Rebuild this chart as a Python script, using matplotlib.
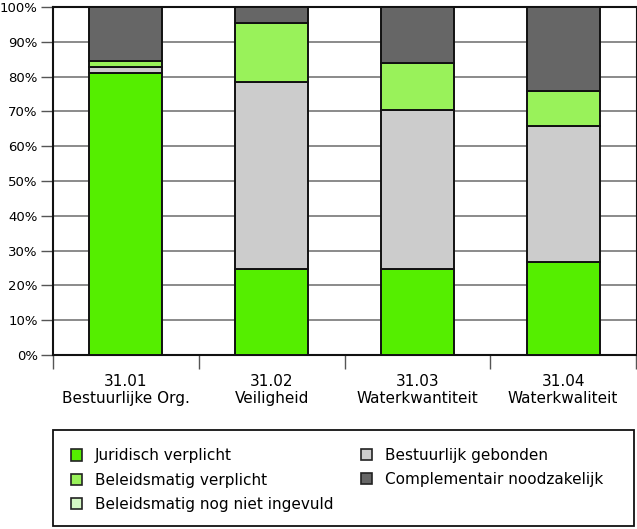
import matplotlib.pyplot as plt
import numpy as np
from matplotlib.patches import Patch, Rectangle
from matplotlib.ticker import FixedLocator

plt.rcParams['font.family'] = ['DejaVu Sans']

categories = ["31.01\nBestuurlijke Org.", "31.02\nVeiligheid", "31.03\nWaterkwantiteit", "31.04\nWaterkwaliteit"]
juridisch = [80.9, 24.7, 24.7, 26.6]
bestuurlijk = [1.9, 53.8, 45.8, 39.1]
beleid_verplicht = [1.7, 16.9, 13.4, 10.2]
beleid_nog_niet = [0.0, 0.0, 0.0, 0.0]
complementair = [15.5, 4.6, 16.1, 24.1]

colors = {
    "Juridisch verplicht": "#55ee00",
    "Bestuurlijk gebonden": "#cccccc",
    "Beleidsmatig verplicht": "#99f25a",
    "Beleidsmatig nog niet ingevuld": "#d4f7c4",
    "Complementair noodzakelijk": "#666666",
}

stack = [
    ("Juridisch verplicht", juridisch),
    ("Bestuurlijk gebonden", bestuurlijk),
    ("Beleidsmatig verplicht", beleid_verplicht),
    ("Beleidsmatig nog niet ingevuld", beleid_nog_niet),
    ("Complementair noodzakelijk", complementair),
]

W, H = 637, 529
fig = plt.figure(figsize=(W / 100, H / 100), dpi=100)
ax = fig.add_axes([53 / W, 1 - 355 / H, 583 / W, 348 / H])

x = np.arange(len(categories))
bottom = np.zeros(len(categories))
for name, vals in stack:
    vals = np.array(vals)
    ax.bar(x, vals, width=0.5, bottom=bottom, color=colors[name],
           edgecolor="#111111", linewidth=1.4, zorder=3)
    bottom += vals

ax.set_xlim(-0.5, len(categories) - 0.5)
ax.set_ylim(0, 100)
ax.set_yticks(np.arange(0, 101, 10))
ax.set_yticklabels([f"{v}%" for v in range(0, 101, 10)], fontsize=9.5)
ax.yaxis.grid(True, color="#777777", linewidth=1.2, zorder=0)
ax.tick_params(axis="y", length=9, width=1, color="#555555", pad=2)

ax.set_xticks(x)
ax.set_xticklabels(categories, fontsize=11, linespacing=1.1)
ax.tick_params(axis="x", which="major", length=0, pad=14)
ax.xaxis.set_minor_locator(FixedLocator(np.arange(-0.5, len(categories) - 0.4, 1)))
ax.tick_params(axis="x", which="minor", length=10, width=1, color="#555555")

for s in ax.spines.values():
    s.set_color("#111111")
    s.set_linewidth(1.5)
ax.spines["right"].set_linewidth(0.8)

# legend frame
fig.patches.append(Rectangle((53 / W, 1 - 526 / H), 581 / W, 96 / H, transform=fig.transFigure,
                             fill=False, edgecolor="#111111", linewidth=1.3))

col1 = ["Juridisch verplicht", "Beleidsmatig verplicht", "Beleidsmatig nog niet ingevuld"]
col2 = ["Bestuurlijk gebonden", "Complementair noodzakelijk"]
common = dict(fontsize=11, frameon=False, handlelength=0.75, handleheight=0.75,
              handletextpad=0.8, labelspacing=0.6, borderpad=0, borderaxespad=0)
fig.legend(handles=[Patch(facecolor=colors[n], edgecolor="#222222", linewidth=1.2, label=n) for n in col1],
           loc="center left", bbox_to_anchor=(71 / W, 1 - 480 / H), **common)
fig.legend(handles=[Patch(facecolor=colors[n], edgecolor="#222222", linewidth=1.2, label=n) for n in col2],
           loc="center left", bbox_to_anchor=(361 / W, 1 - 467.5 / H), **common)

fig.savefig("out.png", dpi=100)
